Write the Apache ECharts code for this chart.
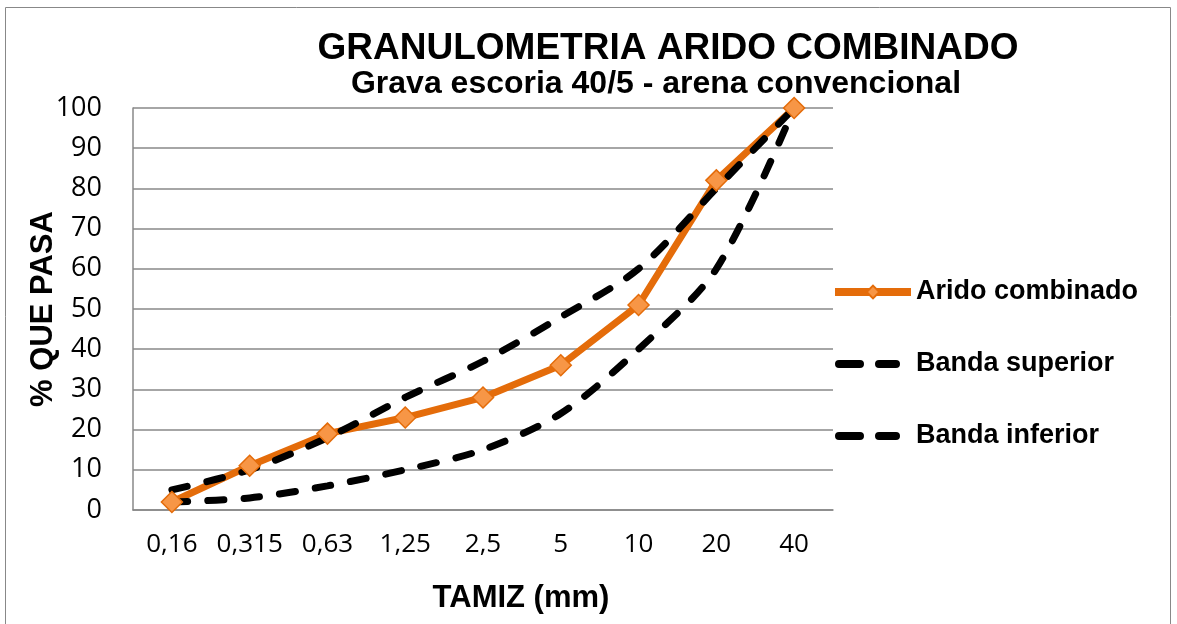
<!DOCTYPE html>
<html><head><meta charset="utf-8">
<script src="https://cdn.jsdelivr.net/npm/echarts@6/dist/echarts.min.js"></script>
<style>html,body{margin:0;padding:0;background:#fff}#c{width:1177px;height:624px}</style>
</head><body><div id="c"></div>
<script>
const categories = ['0,16','0,315','0,63','1,25','2,5','5','10','20','40'];
const aridoCombinado = [2, 11, 19, 23, 28, 36, 51, 82, 100];
const bandaSuperior = [5, 10, 18, 28, 37, 48, 60, 80, 100];
const bandaInferior = [2, 3, 6, 10, 15, 24, 40, 60, 100];
const yTicks = [0, 10, 20, 30, 40, 50, 60, 70, 80, 90, 100];

const dashIcon = 'path://M0,0 L0.01,0 L0,0.01 Z M76,16 L75.99,16 L76,15.99 Z ' +
  'M4,4 L25,4 A4,4 0 0 1 25,12 L4,12 A4,4 0 0 1 4,4 Z ' +
  'M44,4 L61,4 A4,4 0 0 1 61,12 L44,12 A4,4 0 0 1 44,4 Z';

const chart = echarts.init(document.getElementById('c'));
const dash = {color:'#000', width:7, type:[16,20], cap:'round'};
chart.setOption({
  animation:false,
  title:[
    {text:'GRANULOMETRIA ARIDO COMBINADO', left:663, top:25, textAlign:'center',
     textStyle:{fontFamily:'Liberation Sans', fontWeight:'bold', fontSize:37, color:'#000'}},
    {text:'Grava escoria 40/5 - arena convencional', left:651, top:63, textAlign:'center',
     textStyle:{fontFamily:'Liberation Sans', fontWeight:'bold', fontSize:32, color:'#000'}}
  ],
  graphic:[{type:'rect', shape:{x:5.5,y:7.5,width:1165,height:640}, style:{fill:null, stroke:'#888', lineWidth:1}}],
  legend:{
    orient:'vertical', left:831, top:276, padding:0, itemGap:40, itemWidth:76, itemHeight:16,
    symbolKeepAspect:false,
    textStyle:{fontFamily:'Liberation Sans', fontWeight:'bold', fontSize:27, color:'#000', lineHeight:32},
    data:[
      {name:'Arido combinado', lineStyle:{width:8}},
      {name:'Banda superior', icon:dashIcon, itemStyle:{color:'#000'}},
      {name:'Banda inferior', icon:dashIcon, itemStyle:{color:'#000'}}
    ]
  },
  grid:{left:133, right:344, top:108, bottom:114},
  xAxis:{
    type:'category', data:categories, boundaryGap:true,
    name:'TAMIZ (mm)', nameLocation:'middle', nameGap:73,
    nameTextStyle:{fontFamily:'Liberation Sans', fontWeight:'bold', fontSize:31, color:'#000', padding:[0,0,0,76]},
    axisLine:{lineStyle:{color:'#888', width:1.5}}, axisTick:{show:false},
    axisLabel:{fontFamily:'Open Sans', fontSize:26, color:'#000', margin:22, interval:0, hideOverlap:false}
  },
  yAxis:{
    type:'value', min:0, max:100, interval:10,
    name:'% QUE PASA', nameLocation:'middle', nameGap:74, nameRotate:90, nameMoveOverlap:false,
    nameTextStyle:{fontFamily:'Liberation Sans', fontWeight:'bold', fontSize:31, color:'#000'},
    axisLine:{show:true, lineStyle:{color:'#888', width:1.5}}, axisTick:{show:false},
    axisLabel:{fontFamily:'Open Sans', fontSize:27, color:'#000', margin:31,
      formatter:v=>yTicks.includes(v)?String(v):''},
    splitLine:{lineStyle:{color:'#888', width:1.5}}
  },
  series:[
    {name:'Arido combinado', type:'line', data:aridoCombinado, symbol:'diamond', symbolSize:21,
     lineStyle:{color:'#E46C0A', width:7}, itemStyle:{color:'#F79646', borderColor:'#E46C0A', borderWidth:1.5}},
    {name:'Banda superior', type:'line', data:bandaSuperior, smooth:0.3, symbol:'none', showSymbol:false,
     lineStyle:dash, itemStyle:{color:'#000'}},
    {name:'Banda inferior', type:'line', data:bandaInferior, smooth:0.3, symbol:'none', showSymbol:false,
     lineStyle:dash, itemStyle:{color:'#000'}}
  ]
});
</script></body></html>
